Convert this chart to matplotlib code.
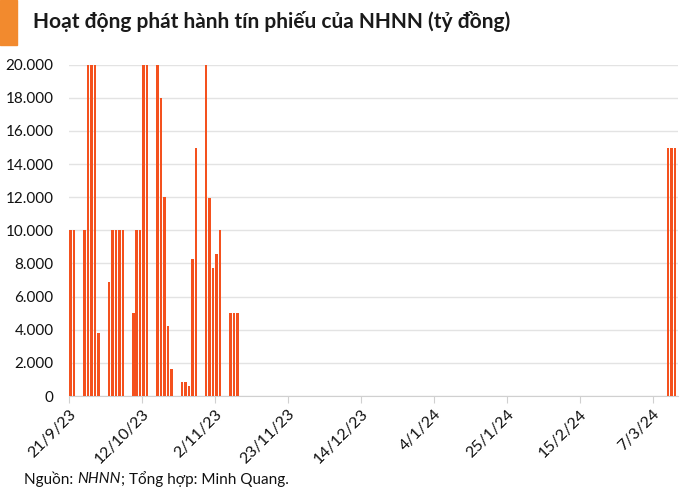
import matplotlib
matplotlib.use("Agg")
import matplotlib.pyplot as plt
import matplotlib.ticker as mticker
import pandas as pd

dates = ["2023-09-21", "2023-09-22", "2023-09-25", "2023-09-26", "2023-09-27", "2023-09-28", "2023-09-29",
         "2023-10-02", "2023-10-03", "2023-10-04", "2023-10-05", "2023-10-06",
         "2023-10-09", "2023-10-10", "2023-10-11", "2023-10-12", "2023-10-13",
         "2023-10-16", "2023-10-17", "2023-10-18", "2023-10-19", "2023-10-20",
         "2023-10-23", "2023-10-24", "2023-10-25", "2023-10-26", "2023-10-27",
         "2023-10-30", "2023-10-31", "2023-11-01", "2023-11-02", "2023-11-03",
         "2023-11-06", "2023-11-07", "2023-11-08",
         "2024-03-11", "2024-03-12", "2024-03-13"]
values = [10000, 10000, 10000, 20000, 20000, 20000, 3800,
          6900, 10000, 10000, 10000, 10000,
          5000, 10000, 10000, 20000, 20000,
          20000, 18000, 12000, 4200, 1650,
          850, 850, 600, 8250, 15000,
          20000, 11950, 7700, 8550, 10000,
          5000, 5000, 5000,
          15000, 15000, 15000]
tick_dates = ["2023-09-21", "2023-10-12", "2023-11-02", "2023-11-23", "2023-12-14",
              "2024-01-04", "2024-01-25", "2024-02-15", "2024-03-07"]
tick_labels = ["21/9/23", "12/10/23", "2/11/23", "23/11/23", "14/12/23",
               "4/1/24", "25/1/24", "15/2/24", "7/3/24"]
title = "Hoạt động phát hành tín phiếu của NHNN (tỷ đồng)"

plt.rcParams['font.family'] = ['Lato', 'DejaVu Sans']

fig = plt.figure(figsize=(7, 4.9), dpi=100)
ax = fig.add_axes([69/700, 1-396/490, (678-69)/700, (396-64.7)/490])

x = pd.to_datetime(dates) + pd.Timedelta(hours=12)
ax.bar(x, values, width=0.72, color='#F4511E', edgecolor='none', zorder=3)

ax.set_ylim(0, 20000)
ax.set_yticks(range(0, 20001, 2000))
ax.yaxis.set_major_formatter(mticker.FuncFormatter(lambda v, p: f"{int(v):,}".replace(",", ".")))
ax.set_xlim(pd.Timestamp("2023-09-21"), pd.Timestamp("2024-03-14") + pd.Timedelta(hours=8))
ax.set_xticks(pd.to_datetime(tick_dates))
ax.set_xticklabels(tick_labels, rotation=45, ha='right', rotation_mode='anchor')

ax.grid(axis='y', color='#e3e3e3', linewidth=1, zorder=0)
for s in ['top', 'right', 'left']:
    ax.spines[s].set_visible(False)
ax.spines['bottom'].set_color('#d0d0d0')
ax.tick_params(axis='y', length=0, labelsize=11, colors='#111111', pad=11)
ax.tick_params(axis='x', length=5, color='#d0d0d0', labelsize=11.5, labelcolor='#111111', pad=3)

fig.patches.append(plt.Rectangle((0, 1-45/490), 17/700, 45/490, transform=fig.transFigure,
                                 color='#F28A2E', zorder=5))
fig.text(33/700, 1-22/490, title, fontsize=15, fontweight='bold', color='#1a1a1a',
         va='center', ha='left')

ypos = 1-479/490
t1 = fig.text(24/700, ypos, "Nguồn: ", fontsize=11, color='#111111', va='center', ha='left')
fig.canvas.draw()
r = fig.canvas.get_renderer()
bb = t1.get_window_extent(r)
t2 = fig.text(bb.x1/700, ypos, "NHNN", fontsize=11, color='#111111', va='center', ha='left', style='italic')
bb2 = t2.get_window_extent(r)
fig.text(bb2.x1/700, ypos, "; Tổng hợp: Minh Quang.", fontsize=11, color='#111111', va='center', ha='left')

fig.savefig("out.png", dpi=100)
